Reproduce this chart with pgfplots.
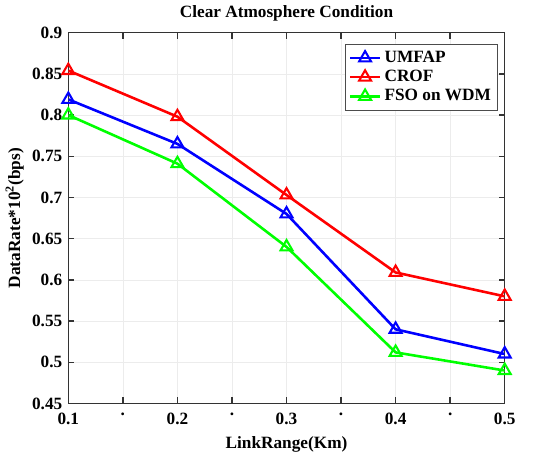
\documentclass[border=0pt]{standalone}
\usepackage{pgfplots}
\pgfplotsset{compat=1.18}
\usepackage{fontspec}
\setmainfont{Liberation Serif}
\begin{document}
\begin{tikzpicture}
\begin{axis}[
  scale only axis,
  width=253pt, height=215pt,
  xmin=0.1, xmax=0.5, ymin=0.45, ymax=0.9,
  xtick={0.1,0.15,0.2,0.25,0.3,0.35,0.4,0.45,0.5},
  xticklabels={0.1,.,0.2,.,0.3,.,0.4,.,0.5},
  ytick={0.45,0.5,0.55,0.6,0.65,0.7,0.75,0.8,0.85,0.9},
  yticklabels={0.45,0.5,0.55,0.6,0.65,0.7,0.75,0.8,0.85,0.9},
  /pgf/number format/assume math mode=true,
  tick label style={font=\bfseries},
  x tick label style={yshift=-2pt},
  grid=major,
  grid style={gray!15, line width=0.4pt},
  axis line style={black!80, line width=0.9pt},
  tick style={black!80, line width=0.8pt},
  tick align=inside,
  major tick length=3.5pt,
  title={\bfseries Clear Atmosphere Condition},
  title style={yshift=-3pt},
  xlabel={\bfseries LinkRange(Km)},
  ylabel={\bfseries DataRate*10$^{\mathbf{2}}$(bps)},
  xlabel style={yshift=0pt},
  ylabel style={yshift=-2pt},
  legend style={at={(0.985,0.97)}, anchor=north east, draw=black!70, font=\bfseries, row sep=-1pt, inner sep=2pt},
  legend cell align=left,
]
\addplot[blue, line width=1.5pt, mark=triangle, mark size=4pt, mark options={line width=1.2pt}] coordinates {(0.1,0.819) (0.2,0.765) (0.3,0.680) (0.4,0.540) (0.5,0.510)};
\addlegendentry{UMFAP}
\addplot[red, line width=1.5pt, mark=triangle, mark size=4pt, mark options={line width=1.2pt}] coordinates {(0.1,0.854) (0.2,0.798) (0.3,0.703) (0.4,0.609) (0.5,0.580)};
\addlegendentry{CROF}
\addplot[green, line width=1.5pt, mark=triangle, mark size=4pt, mark options={line width=1.2pt}] coordinates {(0.1,0.800) (0.2,0.741) (0.3,0.640) (0.4,0.512) (0.5,0.490)};
\addlegendentry{FSO on WDM}
\end{axis}
\path ([xshift=19pt]current axis.outer east);
\path ([yshift=-2pt]current axis.outer south);
\end{tikzpicture}
\end{document}
